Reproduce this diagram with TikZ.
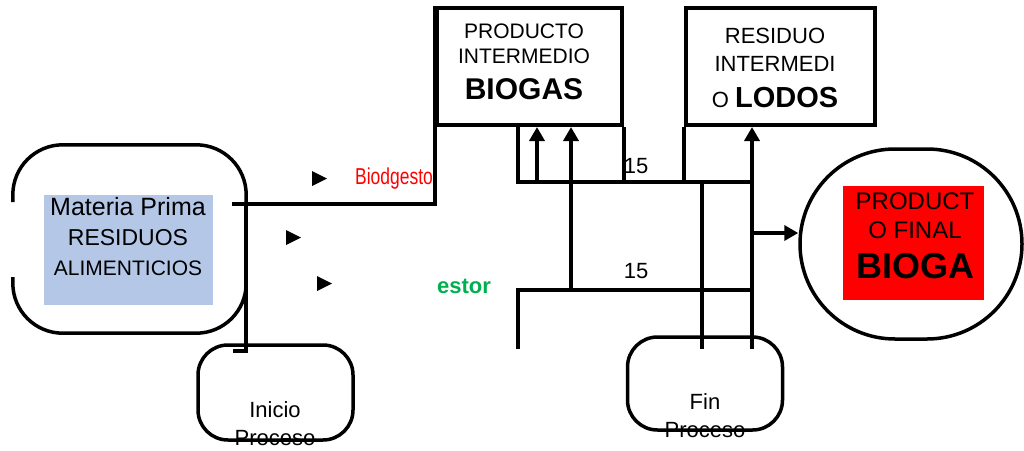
\documentclass[tikz,border=0pt]{standalone}
\usepackage{fontspec}
\usepackage{graphicx}
\setmainfont{Liberation Sans}
\usetikzlibrary{arrows.meta}
\definecolor{mpblue}{RGB}{180,199,231}
\definecolor{estgreen}{RGB}{0,176,80}
\tikzset{
  wire/.style={line width=4pt},
  flow/.style={line width=4pt, -{Triangle[width=15pt,length=14pt]}},
  rbox/.style={draw, line width=3.5pt, rounded corners=30pt, minimum width=155pt, minimum height=95pt},
  sqbox/.style={draw, line width=4pt, minimum width=185pt, minimum height=117pt},
  lbl/.style={inner sep=0pt, align=center, font=\fontsize{21}{25}\selectfont},
}
\begin{document}
\begin{tikzpicture}[x=1pt, y=-1pt]
\useasboundingbox (0,0) rectangle (1024,450);

% materia prima
\node[minimum width=233pt, minimum height=188pt] (mp) at (129.5,239) {};
\draw[line width=3.5pt, rounded corners=50pt] ([yshift=37pt]mp.west) |- (mp.north east) |- (mp.south west) -- ([yshift=-38pt]mp.west);
\node[fill=mpblue, minimum width=169pt, minimum height=110pt] (mpfill) at (128.5,250) {};
\node[lbl, font=\fontsize{23}{30}\selectfont] (mptext) at (128,237) {{\fontsize{25}{30}\selectfont Materia Prima}\\RESIDUOS\\{\fontsize{21}{30}\selectfont ALIMENTICIOS}};

% productos intermedios
\node[sqbox] (prod) at (529.5,66.5) {};
\node[lbl, anchor=north] (prodtext) at (524,24) {PRODUCTO\\INTERMEDIO\\[11pt]{\fontsize{30}{30}\selectfont\bfseries BIOGAS}};
\node[sqbox, minimum width=189pt] (lod) at (780.5,66.5) {};
\node[lbl, anchor=north, font=\fontsize{22}{28}\selectfont] (lodtext) at (775,28) {RESIDUO\\INTERMEDI\\[8pt]O {\fontsize{29}{29}\selectfont\bfseries LODOS}};

% producto final
\node[draw, line width=3.5pt, rounded corners=95pt, minimum width=222pt, minimum height=190pt] (fin) at (911,244) {};
\node[fill=red, minimum width=141pt, minimum height=114pt] (finfill) at (913.5,243) {};
\node[lbl, anchor=north, font=\fontsize{24}{29}\selectfont] (fintext) at (915,193) {PRODUCT\\O FINAL\\[11pt]{\fontsize{36}{36}\selectfont\bfseries BIOGA}};

% inicio y fin
\node[rbox] (ini) at (275.5,392.5) {};
\node[lbl, anchor=north, font=\fontsize{22}{28}\selectfont] (initext) at (275,401) {Inicio\\Proceso};
\node[rbox, minimum height=93pt] (end) at (705,383.5) {};
\node[lbl, anchor=north, font=\fontsize{22}{28}\selectfont] (endtext) at (705,393) {Fin\\Proceso};

% textos sueltos
\node[anchor=base, font=\fontsize{22}{22}\selectfont] (n15a) at (636,173) {15};
\node[anchor=base, font=\fontsize{22}{22}\selectfont] (n15b) at (636,278) {15};
\node[anchor=base west, inner sep=0pt, text=red, font=\fontsize{23}{23}\selectfont] (bio) at (355,184) {\scalebox{0.76}[1]{Biodgesto}};
\node[anchor=base west, inner sep=0pt, text=estgreen, font=\fontsize{22}{22}\selectfont\bfseries] (est) at (437,293) {estor};
\foreach \tx/\ty in {312/178.5, 286/237.5, 317/283.5}
  \fill (\tx,\ty-7.5) -- (\tx+15,\ty) -- (\tx,\ty+7.5) -- cycle;

% conexiones
\coordinate (mpout) at (232,204);
\coordinate (mpdown) at (246,204);
\coordinate (initab) at (233,351);
\coordinate (j1) at (518,182);
\coordinate (j2) at (752,182);
\coordinate (j3) at (518,290);
\coordinate (j4) at (752,290);
\coordinate (j5) at (702,182);
\coordinate (a1) at (537,182);
\coordinate (a2) at (571,290);
\coordinate (a3) at (752,349);
\coordinate (a4) at (752,233);
\draw[wire] (mpout) -| (prod.north west);
\draw[wire] (mpdown) |- (initab);
\draw[wire] (prod.south east) -- (prod.south east |- j1);
\draw[wire] (lod.south west) -- (lod.south west |- j1);
\draw[wire] (j1 |- prod.south) -- (j1) -- (j2);
\draw[wire] (j3 |- a3) -- (j3) -- (j4);
\draw[wire] (j5) -- (j5 |- a3);
\draw[flow] (a1) -- (a1 |- prod.south);
\draw[flow] (a2) -- (a2 |- prod.south);
\draw[flow] (a3) -- (a3 |- lod.south);
\draw[flow] (a4) -- (a4 -| fin.west);
\end{tikzpicture}
\end{document}
